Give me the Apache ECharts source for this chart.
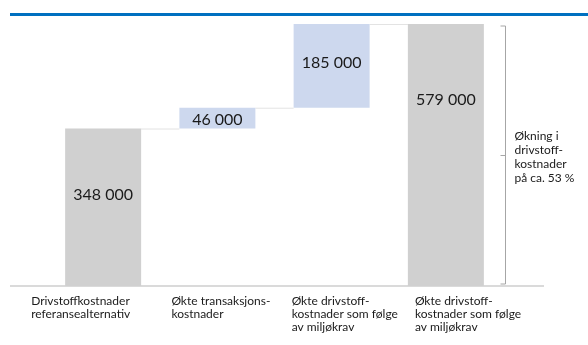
<!DOCTYPE html>
<html>
<head>
<meta charset="utf-8">
<script src="https://cdn.jsdelivr.net/npm/echarts@6/dist/echarts.min.js"></script>
<style>
  html, body { margin: 0; padding: 0; background: #fff; }
  #chart { width: 588px; height: 345px; }
</style>
</head>
<body>
<div id="chart"></div>
<script>
// Fuel cost waterfall: reference level, two increments, and the new total.
const categories = [
  'Drivstoffkostnader\nreferansealternativ',
  'Økte transaksjons-\nkostnader',
  'Økte drivstoff-\nkostnader som følge\nav miljøkrav',
  'Økte drivstoff-\nkostnader som følge\nav miljøkrav'
];
const values = [348000, 46000, 185000, 579000];
const barKinds = ['total', 'step', 'step', 'total'];
const valueLabels = ['348 000', '46 000', '185 000', '579 000'];
const bracketNote = 'Økning i\ndrivstoff-\nkostnader\npå ca. 53 %';

const FONT = 'Lato, "DejaVu Sans", sans-serif';
const GREY = '#d0d0d0';
const BLUE = '#cdd8ee';
// vertical placement of each value label inside its bar
const labelY = ['42%', '57%', '46%', '29%'];

// invisible offsets so the step bars float on the running total
const offsets = [];
let running = 0;
values.forEach((v, i) => {
  if (barKinds[i] === 'total') { offsets.push(0); running = v; }
  else { offsets.push(running); running += v; }
});

const chart = echarts.init(document.getElementById('chart'), null, { renderer: 'canvas' });

chart.setOption({
  animation: false,
  backgroundColor: '#fff',
  grid: { left: 46, top: 24, width: 457, bottom: 59, containLabel: false },
  xAxis: {
    type: 'category',
    data: categories,
    axisLine: { show: false },
    axisTick: { show: false },
    axisLabel: { show: false }
  },
  yAxis: {
    type: 'value',
    min: 0,
    max: 579000,
    show: false,
    splitLine: { show: false }
  },
  series: [
    {
      type: 'bar',
      stack: 'w',
      barWidth: 76,
      silent: true,
      itemStyle: { color: 'transparent' },
      data: offsets
    },
    {
      type: 'bar',
      stack: 'w',
      barWidth: 76,
      data: values.map((v, i) => ({
        value: v,
        itemStyle: { color: barKinds[i] === 'total' ? GREY : BLUE },
        label: {
          show: true,
          position: ['50%', labelY[i]],
          align: 'center',
          verticalAlign: 'middle',
          formatter: valueLabels[i],
          fontFamily: FONT,
          fontSize: 16,
          color: '#1a1a1a'
        }
      }))
    }
  ]
});

// decorations placed from the chart's own scales
function px(cat, val) { return chart.convertToPixel({ gridIndex: 0 }, [cat, val]); }
const half = 38;
const yZero = px(0, 0)[1];
const graphics = [];

// top rule
graphics.push({
  type: 'rect', shape: { x: 10, y: 13, width: 578, height: 3 },
  style: { fill: '#0070c0' }, z: 10
});

// base line
graphics.push({
  type: 'line', shape: { x1: 10, y1: yZero, x2: 544, y2: yZero },
  style: { stroke: '#dadada', lineWidth: 2 }, z: 1
});

// connectors between consecutive bar tops
let level = 0;
values.forEach((v, i) => {
  level = barKinds[i] === 'total' ? v : level + v;
  if (i < values.length - 1) {
    const a = px(i, level), b = px(i + 1, level);
    graphics.push({
      type: 'line',
      shape: { x1: a[0] + half, y1: a[1] + 0.5, x2: b[0] - half, y2: a[1] + 0.5 },
      style: { stroke: '#e3e3e3', lineWidth: 1 }, z: 1
    });
  }
});

// bracket beside the final total
const last = values.length - 1;
const xb = Math.round(px(last, 0)[0] + half + 21) + 0.5;
const yTop = px(last, values[last])[1] + 2;
const yBot = yZero - 2;
const yMid = Math.round((yTop + yBot) / 2) + 0.5;
graphics.push({
  type: 'polyline',
  shape: { points: [[xb - 5, yTop], [xb, yTop], [xb, yBot], [xb - 5, yBot]] },
  style: { stroke: '#a6a6a6', lineWidth: 1, fill: null }, z: 5
});
graphics.push({
  type: 'line', shape: { x1: xb - 5, y1: yMid, x2: xb, y2: yMid },
  style: { stroke: '#a6a6a6', lineWidth: 1 }, z: 5
});
graphics.push({
  type: 'text', x: xb + 9, y: yMid + 2,
  style: {
    text: bracketNote, fontFamily: FONT, fontSize: 12, lineHeight: 14,
    fill: '#1a1a1a', verticalAlign: 'middle', align: 'left'
  }, z: 5
});

// category labels, left aligned under each slot
const labelStart = [-72, -46, -40, -31];
categories.forEach((c, i) => {
  const p = px(i, 0);
  graphics.push({
    type: 'text', x: p[0] + labelStart[i], y: yZero + 9,
    style: {
      text: c, fontFamily: FONT, fontSize: 12, lineHeight: 13,
      fill: '#1a1a1a', verticalAlign: 'top', align: 'left'
    }, z: 5
  });
});

chart.setOption({ graphic: graphics });
</script>
</body>
</html>
